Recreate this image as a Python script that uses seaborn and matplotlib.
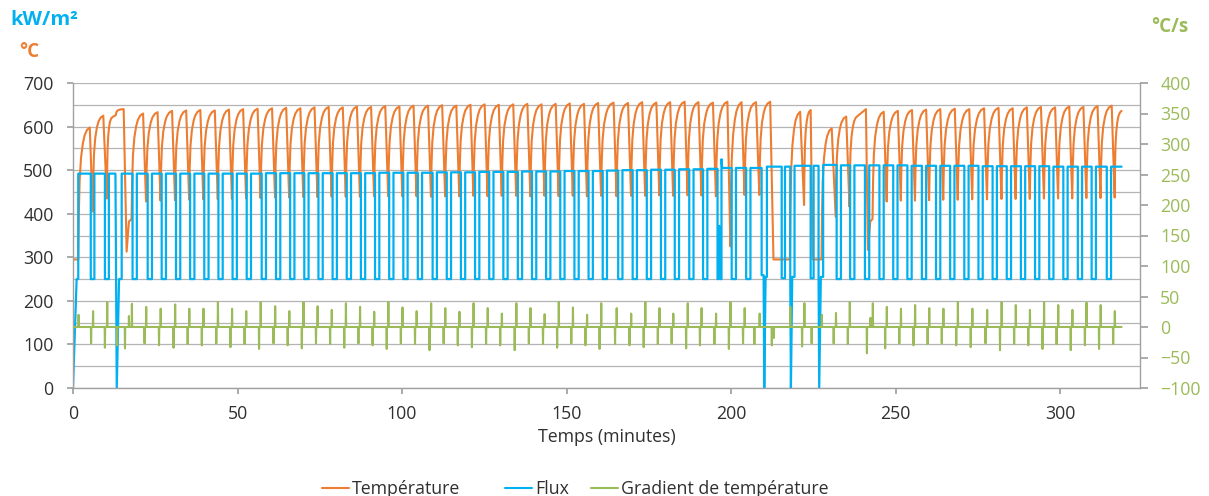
"""
Thermal cycling test: temperature, heat flux and temperature gradient over time.
Two y axes (left: kW/m² and °C, right: °C/s).
"""

import matplotlib

matplotlib.use("Agg")
import matplotlib.pyplot as plt
import pandas as pd
import seaborn as sns
from matplotlib.lines import Line2D
from matplotlib.ticker import MultipleLocator

ORANGE = "#ED7D31"
BLUE = "#00B0F0"
GREEN = "#9BBB59"
GRID = "#B4B4B4"
TEXT = "#303030"

# --- Data (time in minutes) ---

# typical heating ramp, as fractions of ramp duration / temperature rise
RISE_TIME = [0.0, 0.05, 0.12, 0.24, 0.40, 0.55, 0.75, 1.0]
RISE_FRAC = [0.0, 0.35, 0.60, 0.77, 0.88, 0.94, 0.98, 1.0]
DROP_MIN = 0.9  # duration of the cooling drop
LOW_MIN = 1.3  # duration of a low flux pulse
FLUX_LOW = 250

# temperature: start-up, "r" = heating ramp, "l" = straight segment
TEMP_START_T = [0.0, 1.6, 5.1, 6.0, 9.2, 10.3, 12.0, 13.0, 15.4, 16.3, 17.0, 17.8]
TEMP_START_V = [295, 295, 598, 405, 625, 435, 622, 626, 640, 313, 382, 388]
TEMP_START_K = ["l", "l", "r", "l", "r", "l", "r", "l", "r", "l", "l", "l"]

# regular cycles, block A: trough times, peak before each trough, trough value
TEMP_TROUGH_T_A = [
    22.2, 26.6, 31.0, 35.3, 39.6, 44.0, 48.3, 52.6,
    57.0, 61.4, 65.7, 70.0, 74.3, 78.6, 82.9, 87.2, 91.5, 95.8, 100.1, 104.4,
    108.8, 113.1, 117.4, 121.7, 126.0, 130.3, 134.7, 139.0, 143.3, 147.6, 151.9, 156.2, 160.5,
    165.2, 169.6, 173.9, 178.2, 182.4, 186.8, 191.0, 195.4, 199.8, 204.1,
]
TEMP_PEAK_A = [
    630, 633, 636, 637, 638, 637, 639, 640,
    641, 642, 643, 642, 644, 645, 644, 646, 645, 647, 646, 648,
    648, 649, 648, 650, 651, 650, 651, 652, 651, 652, 653, 652, 654,
    655, 654, 656, 655, 656, 657, 656, 655, 657, 656,
]
TEMP_TROUGH_A = [
    428, 430, 431, 432, 433, 433, 434, 435,
    436, 437, 437, 438, 438, 439, 439, 439, 440, 440, 440, 440,
    439, 440, 440, 441, 440, 441, 441, 440, 441, 440, 441, 440, 441,
    440, 441, 441, 442, 441, 442, 442, 440, 325, 443,
]
GRAD_UP_A = [
    33, 30, 37, 30, 30, 41, 30, 26,
    41, 34, 26, 41, 34, 28, 39, 33, 25, 41, 32, 26,
    39, 31, 25, 39, 31, 22, 39, 31, 21, 41, 32, 20, 39,
    31, 22, 41, 31, 22, 39, 31, 22, 41, 31,
]
GRAD_DOWN_A = [
    -27, -30, -34, -28, -30, -27, -33, -28,
    -36, -27, -30, -35, -27, -28, -34, -27, -30, -36, -27, -28,
    -38, -27, -30, -33, -28, -30, -38, -27, -28, -34, -27, -30, -36,
    -28, -30, -33, -28, -27, -35, -30, -28, -36, -27,
]

# interruptions around 210-245 min
TEMP_MID_T = [207.6, 208.6, 211.9, 212.9, 217.9, 221.0, 222.2, 224.2, 224.8, 227.5,
              230.6, 231.8, 235.0, 236.0, 238.6, 241.0, 241.6, 242.3, 243.0]
TEMP_MID_V = [656, 443, 657, 295, 295, 634, 420, 638, 295, 295,
              596, 393, 623, 416, 625, 640, 317, 382, 388]
TEMP_MID_K = ["r", "l", "r", "l", "l", "r", "l", "r", "l", "l",
              "r", "l", "r", "l", "r", "l", "l", "l", "l"]

# regular cycles, block B
TEMP_TROUGH_T_B = [247.3, 251.6, 255.9, 260.2, 264.5, 268.9, 273.3, 277.8, 282.2,
                   286.5, 290.8, 295.1, 299.4, 303.7, 308.0, 312.3, 316.6]
TEMP_PEAK_B = [634, 636, 638, 639, 640, 641, 640, 642, 643, 642, 644, 645, 644, 646, 645, 647, 648]
TEMP_TROUGH_B = [428, 430, 430, 431, 432, 432, 433, 433, 434, 434, 434, 435, 435, 435, 436, 436, 437]
GRAD_UP_B = [33, 30, 36, 31, 30, 41, 30, 28, 41, 36, 28, 41, 36, 28, 40, 36, 26]
GRAD_DOWN_B = [-35, -27, -30, -28, -27, -30, -33, -27, -38, -28, -30, -36, -28, -38, -30, -36, -28]

TEMP_END_T, TEMP_END_V = 318.7, 636

# flux: start-up steps
FLUX_START_T = [0.0, 1.1, 1.6, 1.6, 5.4, 5.4, 6.5, 6.5, 9.7, 9.7, 10.9, 10.9,
                12.9, 13.3, 14.0, 14.8, 14.8, 18.1, 18.1, 19.4, 19.4]
FLUX_START_V = [0, 250, 250, 492, 492, 250, 250, 492, 492, 250, 250, 492,
                492, 0, 250, 250, 492, 492, 250, 250, 492]

# flux low pulses, block A, and plateau level after each pulse
FLUX_LOW_T_A = [
    22.7, 26.95, 31.3, 35.6, 39.9, 44.2, 48.5, 52.8,
    57.35, 61.7, 66.0, 70.3, 74.6, 78.9, 83.2, 87.5, 91.8, 96.1, 100.4, 104.8,
    109.3, 113.6, 117.9, 122.2, 126.5, 130.8, 135.2, 139.5, 143.8, 148.1, 152.4, 156.7, 161.0,
    165.7, 170.1, 174.4, 178.7, 182.9, 187.3, 191.5,
]
FLUX_HIGH_A = [
    492, 492, 492, 492, 492, 492, 492, 492,
    493, 493, 493, 493, 493, 493, 493, 493, 494, 494, 494, 494,
    495, 495, 495, 496, 496, 496, 497, 497, 497, 498, 498, 498, 499,
    500, 500, 501, 501, 502, 502, 503,
]

FLUX_MID_T = [195.9, 195.9, 196.3, 196.4, 196.5, 196.6, 196.7, 197.1, 197.1, 197.3,
              200.2, 200.2, 201.5, 201.5, 204.6, 204.6, 205.9, 205.9,
              209.3, 209.3, 209.9, 210.1, 210.5, 210.9, 210.9,
              215.4, 215.4, 216.4, 216.4,
              218.0, 218.0, 218.2, 218.6, 219.3, 219.3,
              224.2, 224.2, 225.1, 225.1,
              226.6, 226.6, 226.8, 227.3, 228.0, 228.0]
FLUX_MID_V = [503, 250, 250, 372, 252, 365, 250, 250, 525, 505,
              505, 250, 250, 505, 505, 250, 250, 505,
              505, 259, 259, 0, 255, 255, 508,
              508, 252, 252, 508,
              508, 255, 0, 255, 255, 510,
              510, 252, 252, 510,
              510, 255, 0, 255, 255, 512]

FLUX_LOW_T_B = [232.1, 236.2, 240.7, 245.1, 249.3, 253.6, 258.0, 262.3, 266.6, 270.9,
                275.2, 279.5, 283.8, 288.1, 292.4, 296.7, 301.0, 305.4, 309.6, 314.2]
FLUX_HIGH_B = [511, 511, 511, 511, 511, 510, 510, 510, 510, 510,
               509, 509, 509, 509, 509, 508, 508, 508, 508, 508]
FLUX_END_T = 318.7

# gradient spikes outside the regular blocks
GRAD_START_T = [1.7, 5.5, 6.1, 9.7, 10.4, 13.4, 15.8, 17.0, 17.9]
GRAD_START_V = [20, -27, 26, -34, 41, -30, -35, 18, 38]
GRAD_MID_T = [207.1, 208.7, 212.4, 213.0, 218.0, 221.6, 222.3, 224.5, 227.6,
              231.2, 231.9, 235.5, 236.1, 241.3, 242.4, 243.1]
GRAD_MID_V = [-28, 22, -30, -18, 33, -32, 39, -27, 20,
              -27, 23, -28, 41, -43, 15, 39]
GRAD_END_T = 318.7

LEGEND_LABELS = ["Température", "Flux", "Gradient de température"]


# --- Series construction ---


def expand_anchors(anchors):
    """Turn (t, value, kind) anchors into a polyline; 'r' segments follow the ramp shape."""
    ts, vs = [anchors[0][0]], [anchors[0][1]]
    for (t0, v0, _), (t1, v1, kind) in zip(anchors[:-1], anchors[1:]):
        if kind == "r":
            for ft, fv in zip(RISE_TIME[1:], RISE_FRAC[1:]):
                ts.append(t0 + ft * (t1 - t0))
                vs.append(v0 + fv * (v1 - v0))
        else:
            ts.append(t1)
            vs.append(v1)
    return ts, vs


def temperature_series():
    anchors = list(zip(TEMP_START_T, TEMP_START_V, TEMP_START_K))
    for t, pk, tr in zip(TEMP_TROUGH_T_A, TEMP_PEAK_A, TEMP_TROUGH_A):
        anchors += [(t - DROP_MIN, pk, "r"), (t, tr, "l")]
    anchors += list(zip(TEMP_MID_T, TEMP_MID_V, TEMP_MID_K))
    for t, pk, tr in zip(TEMP_TROUGH_T_B, TEMP_PEAK_B, TEMP_TROUGH_B):
        anchors += [(t - DROP_MIN, pk, "r"), (t, tr, "l")]
    anchors.append((TEMP_END_T, TEMP_END_V, "r"))
    return expand_anchors(anchors)


def add_pulses(ts, vs, low_times, highs):
    for low_t, high in zip(low_times, highs):
        ts += [low_t, low_t, low_t + LOW_MIN, low_t + LOW_MIN]
        vs += [vs[-1], FLUX_LOW, FLUX_LOW, high]


def flux_series():
    ts, vs = list(FLUX_START_T), list(FLUX_START_V)
    add_pulses(ts, vs, FLUX_LOW_T_A, FLUX_HIGH_A)
    ts += FLUX_MID_T
    vs += FLUX_MID_V
    add_pulses(ts, vs, FLUX_LOW_T_B, FLUX_HIGH_B)
    ts.append(FLUX_END_T)
    vs.append(vs[-1])
    return ts, vs


def gradient_series():
    spikes = list(zip(GRAD_START_T, GRAD_START_V))
    for t, up, down in zip(TEMP_TROUGH_T_A, GRAD_UP_A, GRAD_DOWN_A):
        spikes += [(t - 0.45, down), (t + 0.05, up)]
    spikes += list(zip(GRAD_MID_T, GRAD_MID_V))
    for t, up, down in zip(TEMP_TROUGH_T_B, GRAD_UP_B, GRAD_DOWN_B):
        spikes += [(t - 0.45, down), (t + 0.05, up)]
    spikes.sort()
    ts, vs = [0.0], [0.0]
    for t, v in spikes:
        ts += [t - 0.08, t, t + 0.08]
        vs += [0, v, 0]
    ts.append(GRAD_END_T)
    vs.append(0)
    return ts, vs


def draw(ax, ts, vs, color, lw):
    df = pd.DataFrame({"t": ts, "v": vs})
    sns.lineplot(data=df, x="t", y="v", ax=ax, color=color, lw=lw,
                 estimator=None, sort=False, legend=False)


# --- Figure ---

sns.set_theme(style="white")
plt.rcParams["font.family"] = ["Open Sans", "DejaVu Sans"]
FS = 12.8

fig = plt.figure(figsize=(12.09, 4.96), dpi=100)
ax = fig.add_axes([73 / 1209, 108 / 496, 1067 / 1209, 305 / 496])
ax2 = ax.twinx()

draw(ax, *temperature_series(), ORANGE, 1.5)
draw(ax, *flux_series(), BLUE, 1.6)
draw(ax2, *gradient_series(), GREEN, 1.5)

ax.set_xlim(0, 324.3)
ax.set_ylim(0, 700)
ax2.set_ylim(-100, 400)

ax.set_yticks(range(0, 701, 100))
ax.yaxis.set_minor_locator(MultipleLocator(50))
ax.set_xticks(range(0, 301, 50))
ax2.set_yticks(range(-100, 401, 50))

ax.set_axisbelow(True)
ax.grid(True, which="both", axis="y", color=GRID, lw=0.9)
ax.grid(False, axis="x")

for a in (ax, ax2):
    for side in ("top", "left", "right", "bottom"):
        a.spines[side].set_visible(False)
ax.spines["left"].set_visible(True)
ax.spines["bottom"].set_visible(True)
ax2.spines["right"].set_visible(True)
for sp in (ax.spines["left"], ax.spines["bottom"], ax2.spines["right"]):
    sp.set_color("#A0A0A0")
    sp.set_linewidth(1.0)

ax.tick_params(axis="y", which="major", length=4, color="#A0A0A0", pad=10,
               labelsize=FS, labelcolor=TEXT, left=True)
ax.tick_params(axis="y", which="minor", length=0)
ax.tick_params(axis="x", length=4, color="#A0A0A0", pad=8, labelsize=FS,
               labelcolor=TEXT, bottom=True)
ax2.tick_params(axis="y", length=5.5, color="#A0A0A0", pad=9, labelsize=FS,
                labelcolor=GREEN, right=True)

ax.set_xlabel("Temps (minutes)", fontsize=FS, color=TEXT, labelpad=4)
ax.set_ylabel("")
ax2.set_ylabel("")

fig.text(10 / 1209, 1 - 20 / 496, "kW/m²", color=BLUE, fontsize=14.5, fontweight="bold",
         ha="left", va="center")
fig.text(19 / 1209, 1 - 52 / 496, "°C", color=ORANGE, fontsize=13.5, fontweight="bold",
         ha="left", va="center")
fig.text(1151 / 1209, 1 - 27 / 496, "°C/s", color=GREEN, fontsize=13.5, fontweight="bold",
         ha="left", va="center")

# one legend per entry so each can sit where the reference puts it
for color, label, x_px in zip((ORANGE, BLUE, GREEN), LEGEND_LABELS, (322, 505, 591)):
    fig.legend([Line2D([], [], color=color, lw=1.5)], [label],
               loc="center left", bbox_to_anchor=(x_px / 1209, 7 / 496),
               frameon=False, fontsize=FS, handlelength=1.5, handletextpad=0.2,
               borderpad=0, borderaxespad=0, labelcolor=TEXT)

fig.savefig("out.png", dpi=100)
